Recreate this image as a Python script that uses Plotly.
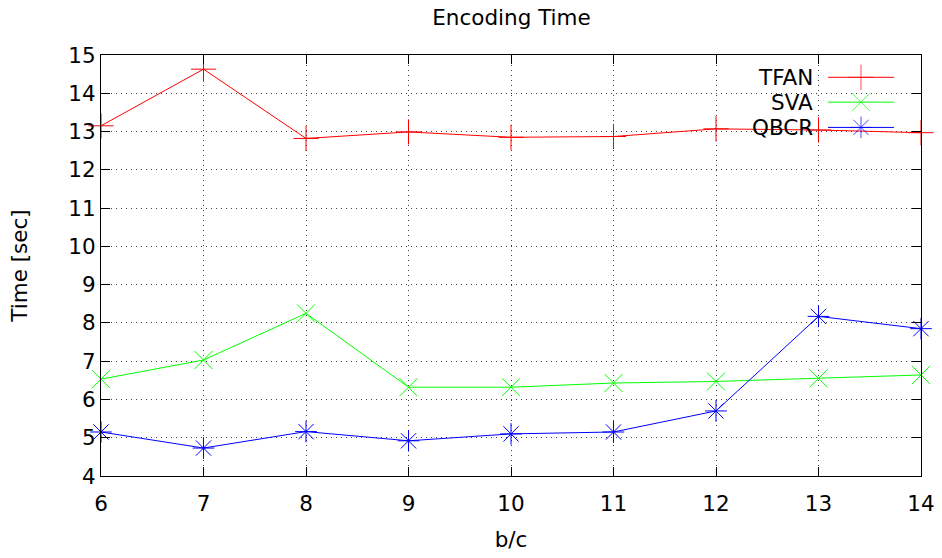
import plotly.graph_objects as go

bc = [6, 7, 8, 9, 10, 11, 12, 13, 14]
tfan = [13.15, 14.63, 12.82, 12.99, 12.85, 12.87, 13.07, 13.04, 12.97]
sva = [6.53, 7.03, 8.25, 6.32, 6.32, 6.43, 6.47, 6.55, 6.64]
qbcr = [5.15, 4.73, 5.16, 4.92, 5.10, 5.15, 5.70, 8.17, 7.85]

series_names = ["TFAN", "SVA", "QBCR"]
series_values = [tfan, sva, qbcr]
colors = ["#ff0000", "#00ff00", "#0000ff"]
symbols = ["cross-thin", "x-thin", "asterisk"]

FONT = "DejaVu Sans"
FS = 21.5
fig = go.Figure()

for name, vals, col, sym in zip(series_names, series_values, colors, symbols):
    fig.add_trace(go.Scatter(
        x=bc, y=vals, mode="lines+markers", name=name,
        line=dict(color=col, width=1),
        marker=dict(symbol=sym, size=18, color=col, line=dict(color=col, width=1)),
        cliponaxis=False, showlegend=False,
    ))

# gnuplot-style key: text on the left, sample on the right
key_y = [0.947, 0.888, 0.828]
key_x0, key_xm, key_x1 = 0.8866, 0.9268, 0.967
for name, col, sym, ky in zip(series_names, colors, symbols, key_y):
    fig.add_trace(go.Scatter(
        x=[key_x0, key_xm, key_x1], y=[ky, ky, ky], xaxis="x2", yaxis="y2",
        mode="lines+markers", line=dict(color=col, width=1),
        marker=dict(symbol=sym, size=[0, 18, 0], color=col, line=dict(color=col, width=1)),
        showlegend=False, hoverinfo="skip", cliponaxis=False,
    ))
    fig.add_annotation(x=key_x0 - 0.016, y=ky, xref="x2", yref="y2", text=name,
                       showarrow=False, xanchor="right", yanchor="middle",
                       font=dict(family=FONT, size=FS, color="black"))

axis_common = dict(
    showline=True, linecolor="black", linewidth=1, mirror="ticks",
    ticks="inside", ticklen=9, tickcolor="black", tickwidth=1,
    showgrid=True, gridcolor="rgba(0,0,0,0.75)", gridwidth=1, griddash="1px,4px",
    zeroline=False, automargin=False,
    tickfont=dict(family=FONT, size=FS, color="black"),
)

fig.update_layout(
    width=942, height=558,
    margin=dict(l=101, r=21, t=55, b=82),
    paper_bgcolor="white", plot_bgcolor="white",
    title=dict(text="Encoding Time", x=0.543, xanchor="center", y=0.968, yanchor="middle",
               font=dict(family=FONT, size=FS, color="black")),
    xaxis=dict(range=[6, 14], dtick=1, tick0=6, ticklabelstandoff=8,
               title=dict(text="b/c", font=dict(family=FONT, size=FS, color="black"), standoff=17),
               **axis_common),
    yaxis=dict(range=[4, 15], dtick=1, tick0=4,
               title=dict(text="Time [sec]", font=dict(family=FONT, size=FS, color="black"), standoff=34),
               **axis_common),
    xaxis2=dict(range=[0, 1], overlaying="x", visible=False, fixedrange=True),
    yaxis2=dict(range=[0, 1], overlaying="y", visible=False, fixedrange=True),
    showlegend=False,
)

fig.write_html("out.html", config={"displayModeBar": False},
               post_script="document.body.style.margin='0px';")
